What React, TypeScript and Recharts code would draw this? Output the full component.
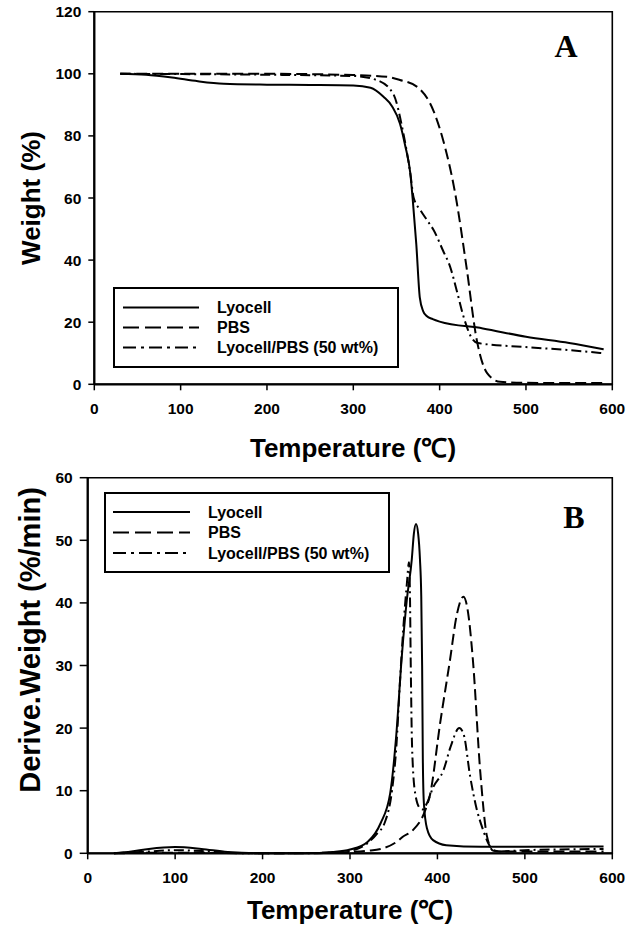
import React from "react";
import { Label, Legend, Line, LineChart, ReferenceArea, XAxis, YAxis } from "recharts";

// temperature ticks (℃) shared by both panels
const tempTicks = [0, 100, 200, 300, 400, 500, 600];
const weightTicks = [0, 20, 40, 60, 80, 100, 120];
const dtgTicks = [0, 10, 20, 30, 40, 50, 60];

const seriesNames = ["Lyocell", "PBS", "Lyocell/PBS (50 wt%)"];

// panel A: TGA weight (%)
const lyocellTgaT = [30, 60, 90, 120, 150, 200, 250, 300, 320, 335, 345, 354, 360, 366, 369, 373, 377, 381, 385, 392, 400, 450, 500, 550, 590];
const lyocellTgaW = [100, 99.7, 98.8, 97.6, 96.8, 96.5, 96.4, 96.2, 95.5, 92.6, 89.5, 84, 77, 68, 59, 45, 28, 23.5, 22, 21, 20.2, 18, 15.3, 13.3, 11.3];

const pbsTgaT = [30, 100, 200, 300, 340, 354, 374, 393, 404, 418, 431, 443, 455, 470, 500, 550, 590];
const pbsTgaW = [100, 100, 100, 99.6, 99, 98, 95.8, 88, 78.7, 61.5, 38, 14.3, 3.6, 0.8, 0.5, 0.4, 0.4];

const blendTgaT = [30, 100, 200, 300, 327, 346, 358, 366, 370, 378, 385, 393, 404, 412, 420, 428, 436, 444, 500, 550, 590];
const blendTgaW = [100, 99.9, 99.7, 99.3, 98, 93.7, 80.8, 68, 60, 56, 53, 49.7, 43, 38, 30, 21.5, 15.5, 13.3, 12, 11, 10];

// panel B: DTG (%/min)
const lyocellDtgT = [30, 50, 70, 100, 130, 160, 200, 250, 280, 300, 320, 335, 346, 353, 359, 365, 370.7, 373, 375.5, 378, 380, 381.5, 382.5, 383.3, 384.5, 388, 395, 410, 450, 500, 590];
const lyocellDtgD = [0, 0.3, 0.7, 1.0, 0.7, 0.2, 0, 0, 0.2, 0.6, 1.8, 4.8, 9.6, 19, 31, 40.5, 47, 51, 52.6, 51, 47, 41, 30, 15, 8, 4, 2.1, 1.3, 1.05, 1.05, 1.1];

const pbsDtgT = [30, 100, 200, 280, 300, 320, 338, 355, 360, 372, 385, 391.6, 403, 414.5, 422, 429.8, 435, 440.5, 449, 456.7, 464, 475, 500, 590];
const pbsDtgD = [0, 0.1, 0, 0.1, 0.2, 0.4, 0.8, 2, 2.6, 3.7, 6.5, 9.4, 20.7, 31, 38, 41, 38.5, 31, 13, 2.7, 0.4, 0.3, 0.3, 0.3];

const blendDtgT = [30, 60, 100, 140, 180, 250, 290, 310, 330, 340, 348, 353, 357, 361, 365, 367.5, 368.5, 369.5, 371, 374.5, 380, 383, 388, 395, 407, 415, 425, 430, 437.4, 445, 450.8, 462, 470, 500, 590];
const blendDtgD = [0, 0.2, 0.5, 0.3, 0, 0, 0.2, 0.8, 3, 5, 10, 17, 27, 36, 43, 46.5, 42, 30, 17, 9.6, 7.2, 7, 8, 10.5, 13.3, 17, 20, 19, 12.3, 7, 4.3, 0.8, 0.3, 0.5, 0.7];

const zip = (xs: number[], ys: number[]) => xs.map((t, i) => ({ t, v: ys[i] }));

const FONT = "'Liberation Sans', Arial, sans-serif";
const tickStyle = { fill: "#000", fontSize: 15.5, fontWeight: 700, fontFamily: FONT };

const styles = [
  { dash: undefined, legendDash: undefined },
  { dash: "11 5", legendDash: "16 6" },
  { dash: "10 4 2 4", legendDash: "13 5 3 5" },
];

function Title(p: { tx: number; ty: number; rot?: boolean; text: string; size?: number }) {
  return (
    <text
      x={p.tx}
      y={p.ty}
      transform={p.rot ? `rotate(-90 ${p.tx} ${p.ty})` : undefined}
      textAnchor="middle"
      fontFamily={FONT}
      fontWeight={700}
      fontSize={p.size ?? 26}
      fill="#000"
    >
      {p.text}
    </text>
  );
}

function YTitleAndLetter(p: { tx: number; ty: number; text: string; size?: number; lx: number; ly: number; letter: string }) {
  return (
    <g>
      <Title tx={p.tx} ty={p.ty} rot text={p.text} size={p.size} />
      <text x={p.lx} y={p.ly} textAnchor="middle" fontFamily="'Liberation Serif', 'Times New Roman', serif" fontWeight={700} fontSize={32} fill="#000">
        {p.letter}
      </text>
    </g>
  );
}

function LegendBox(p: { w: number; h: number; lineX0: number; lineX1: number; textX: number; rows: number[] }) {
  return (
    <svg width={p.w} height={p.h} style={{ display: "block" }}>
      <rect x={1} y={1} width={p.w - 2} height={p.h - 2} fill="#fff" stroke="#000" strokeWidth={2} />
      {seriesNames.map((name, i) => (
        <g key={name}>
          <line x1={p.lineX0} x2={p.lineX1} y1={p.rows[i]} y2={p.rows[i]} stroke="#000" strokeWidth={2} strokeDasharray={styles[i].legendDash} />
          <text x={p.textX} y={p.rows[i] + 5.5} fontFamily={FONT} fontWeight={700} fontSize={16} fill="#000">
            {name}
          </text>
        </g>
      ))}
    </svg>
  );
}

const axisLine = { stroke: "#000", strokeWidth: 2.2 };
const tickLine = { stroke: "#000", strokeWidth: 1.5 };

function TgaChart() {
  const sets = [zip(lyocellTgaT, lyocellTgaW), zip(pbsTgaT, pbsTgaW), zip(blendTgaT, blendTgaW)];
  return (
    <LineChart width={637} height={465} margin={{ top: 11.7, right: 24.7, left: 0, bottom: 0 }}>
      <ReferenceArea x1={0} x2={600} y1={0} y2={120} fill="none" stroke="#000" strokeWidth={1.6} />
      <XAxis
        dataKey="t"
        type="number"
        domain={[0, 600]}
        ticks={tempTicks}
        tick={tickStyle}
        tickSize={6}
        tickMargin={13}
        height={80.7}
        axisLine={axisLine}
        tickLine={tickLine}
      >
        <Label content={<Title tx={353} ty={457} text="Temperature (℃)" />} />
      </XAxis>
      <YAxis
        type="number"
        domain={[0, 120]}
        ticks={weightTicks}
        tick={tickStyle}
        tickSize={6}
        tickMargin={7}
        width={94.3}
        axisLine={axisLine}
        tickLine={tickLine}
      >
        <Label content={<YTitleAndLetter tx={40} ty={198} text="Weight (%)" lx={566} ly={56.5} letter="A" />} />
      </YAxis>
      {sets.map((d, i) => (
        <Line
          key={seriesNames[i]}
          data={d}
          dataKey="v"
          name={seriesNames[i]}
          type="monotone"
          stroke="#000"
          strokeWidth={2}
          strokeDasharray={styles[i].dash}
          dot={false}
          isAnimationActive={false}
        />
      ))}
      <Legend
        layout="horizontal"
        verticalAlign="middle"
        align="center"
        wrapperStyle={{ left: 113, top: 286.7, width: 286, height: 81 }}
        content={() => <LegendBox w={286} h={81} lineX0={10} lineX1={86} textX={104} rows={[20.6, 40.6, 60.6]} />}
      />
    </LineChart>
  );
}

function DtgChart() {
  const sets = [zip(lyocellDtgT, lyocellDtgD), zip(pbsDtgT, pbsDtgD), zip(blendDtgT, blendDtgD)];
  return (
    <LineChart width={637} height={461} margin={{ top: 12.7, right: 24.7, left: 0, bottom: 0 }}>
      <ReferenceArea x1={0} x2={600} y1={0} y2={60} fill="none" stroke="#000" strokeWidth={1.6} />
      <XAxis
        dataKey="t"
        type="number"
        domain={[0, 600]}
        ticks={tempTicks}
        tick={tickStyle}
        tickSize={6}
        tickMargin={13}
        height={72.7}
        axisLine={axisLine}
        tickLine={tickLine}
      >
        <Label content={<Title tx={350} ty={454} text="Temperature (℃)" />} />
      </XAxis>
      <YAxis
        type="number"
        domain={[0, 60]}
        ticks={dtgTicks}
        tick={tickStyle}
        tickSize={8}
        tickMargin={7}
        width={87.7}
        axisLine={axisLine}
        tickLine={tickLine}
      >
        <Label content={<YTitleAndLetter tx={40} ty={175} size={29} text="Derive.Weight (%/min)" lx={574} ly={63} letter="B" />} />
      </YAxis>
      {sets.map((d, i) => (
        <Line
          key={seriesNames[i]}
          data={d}
          dataKey="v"
          name={seriesNames[i]}
          type="monotone"
          stroke="#000"
          strokeWidth={2}
          strokeDasharray={styles[i].dash}
          dot={false}
          isAnimationActive={false}
        />
      ))}
      <Legend
        layout="horizontal"
        verticalAlign="middle"
        align="center"
        wrapperStyle={{ left: 104.3, top: 27.3, width: 286, height: 81 }}
        content={() => <LegendBox w={286} h={81} lineX0={9} lineX1={86} textX={104} rows={[20, 40.5, 61]} />}
      />
    </LineChart>
  );
}

export default function App() {
  return (
    <div style={{ position: "absolute", left: 0, top: 0, width: 637, height: 926, background: "#fff" }}>
      <div style={{ position: "absolute", left: 0, top: 0 }}>
        <TgaChart />
      </div>
      <div style={{ position: "absolute", left: 0, top: 465 }}>
        <DtgChart />
      </div>
    </div>
  );
}
